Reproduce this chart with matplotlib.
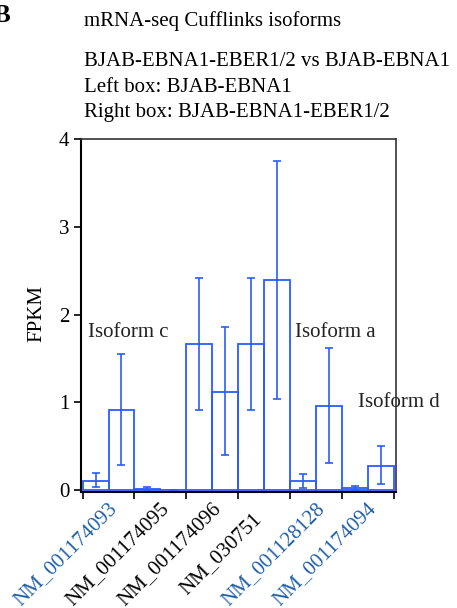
import matplotlib
matplotlib.use("Agg")
import matplotlib.pyplot as plt
import numpy as np

plt.rcParams['font.family'] = ['Liberation Serif', 'DejaVu Serif']

categories = ["NM_001174093", "NM_001174095", "NM_001174096", "NM_030751", "NM_001128128", "NM_001174094"]
label_colors = ["#1f5fa8", "black", "black", "black", "#1f5fa8", "#1f5fa8"]

left_vals = [0.10, 0.01, 1.66, 1.66, 0.10, 0.02]
left_lo = [0.03, 0.00, 0.91, 0.91, 0.02, 0.00]
left_hi = [0.19, 0.03, 2.42, 2.42, 0.18, 0.04]

right_vals = [0.91, 0.00, 1.12, 2.39, 0.96, 0.27]
right_lo = [0.29, 0.00, 0.40, 1.04, 0.31, 0.065]
right_hi = [1.55, 0.00, 1.86, 3.75, 1.62, 0.50]

annotations = [("Isoform c", -0.40, 1.80), ("Isoform a", 3.59, 1.80), ("Isoform d", 4.80, 1.00)]

blue = "#2a5cff"
fs = 15

fig = plt.figure(figsize=(4.57, 6.08), dpi=100)
ax = fig.add_axes([80.5/457, 1-491.5/608, 315.5/457, (491.5-139)/608])

x = np.arange(len(categories))
w = 0.5
for xs, vals, lo, hi in [(x - w/2, left_vals, left_lo, left_hi), (x + w/2, right_vals, right_lo, right_hi)]:
    vals = np.array(vals); lo = np.array(lo); hi = np.array(hi)
    ax.bar(xs, vals, width=w, fill=False, edgecolor=blue, linewidth=1.3)
    ax.errorbar(xs, vals, yerr=[vals - lo, hi - vals], fmt='none', ecolor=blue,
                elinewidth=1.2, capsize=3, capthick=1.2)

ax.set_xlim(-0.54, 5.54)
ax.set_ylim(-0.017, 4.0)
ax.set_yticks([0, 1, 2, 3, 4])
ax.tick_params(axis='y', labelsize=fs, direction='out', length=5, width=1.2, pad=3)
ax.set_xticks(np.arange(len(categories) + 1) - 0.5)
ax.set_xticklabels([])
ax.tick_params(axis='x', direction='out', length=5, width=1.2)

# label centres: 43 px left of group centre, about 554 px down the figure
px_per_x = 315.5 / 6.08
px_per_y = 352.5 / 4.017
for i, (c, col) in enumerate(zip(categories, label_colors)):
    ax.text(i - 43 / px_per_x, -(554 - 490) / px_per_y, c, rotation=45, ha='center', va='center',
            rotation_mode='anchor', fontsize=fs, color=col, clip_on=False)

for s in ['left', 'bottom']:
    ax.spines[s].set_linewidth(1.5)
for s in ['top', 'right']:
    ax.spines[s].set_linewidth(1.2)
    ax.spines[s].set_color('#333333')

ax.set_ylabel("FPKM", fontsize=fs)
ax.yaxis.set_label_coords(-34/315.5, (491.5-314)/352.5)

for t, xx, yy in annotations:
    ax.text(xx, yy, t, fontsize=fs, color='#222222', ha='left', va='center', clip_on=False)

fig.text(84/457, 1-21/608, "mRNA-seq Cufflinks isoforms", fontsize=fs, va='center', ha='left')
fig.text(84/457, 1-61/608, "BJAB-EBNA1-EBER1/2 vs BJAB-EBNA1", fontsize=fs, va='center', ha='left')
fig.text(84/457, 1-87/608, "Left box: BJAB-EBNA1", fontsize=fs, va='center', ha='left')
fig.text(84/457, 1-113/608, "Right box: BJAB-EBNA1-EBER1/2", fontsize=fs, va='center', ha='left')
fig.text(-6/457, 1-15/608, "B", fontsize=18, fontweight='bold', va='center', ha='left')

fig.savefig("out.png", dpi=100)
